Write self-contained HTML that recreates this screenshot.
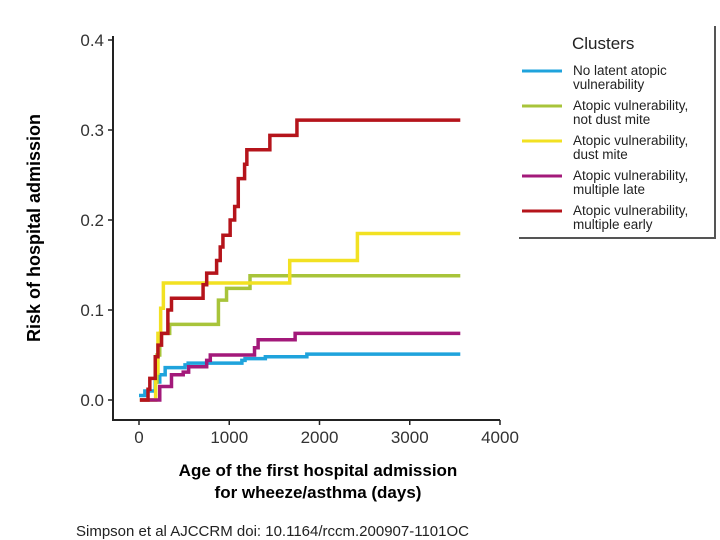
<!DOCTYPE html>
<html><head><meta charset="utf-8"><style>
body{margin:0;background:#fff;}
svg{display:block;font-family:"Liberation Sans",Arial,sans-serif;}
</style></head><body>
<svg id="c" width="720" height="540">
<g id="axes"></g>
<g id="series"></g>
<text x="0" y="0" transform="translate(40,228) rotate(-90)" text-anchor="middle" font-size="18" font-weight="bold">Risk of hospital admission</text>
<text x="318" y="476" text-anchor="middle" font-size="17" font-weight="bold">Age of the first hospital admission</text>
<text x="318" y="498" text-anchor="middle" font-size="17" font-weight="bold">for wheeze/asthma (days)</text>
<text x="76" y="536" font-size="15" fill="#222">Simpson et al AJCCRM doi: 10.1164/rccm.200907-1101OC</text>
<g>
<line x1="715" y1="26" x2="715" y2="239" stroke="#555" stroke-width="2"/>
<line x1="519" y1="238" x2="715" y2="238" stroke="#555" stroke-width="2"/>
<text x="572" y="49" font-size="17" fill="#222">Clusters</text>
<g id="legend"></g>
</g>
</svg>
<script>
const xTicks=[0,1000,2000,3000,4000];
const yTicks=[0.0,0.1,0.2,0.3,0.4];
const seriesNames=["No latent atopic|vulnerability","Atopic vulnerability,|not dust mite","Atopic vulnerability,|dust mite","Atopic vulnerability,|multiple late","Atopic vulnerability,|multiple early"];
const seriesColors=["#1fa3dc","#a8c43a","#f2e122","#a3197a","#b5141b"];
const blueDays=[0,65,180,230,290,510,545,1140,1175,1400,1860,3560];
const blueRisk=[0.005,0.01,0.02,0.028,0.036,0.039,0.041,0.044,0.046,0.048,0.051,0.051];
const greenDays=[10,170,185,200,230,340,880,970,1230,3560];
const greenRisk=[0,0,0.02,0.05,0.074,0.084,0.111,0.124,0.138,0.138];
const yellowDays=[10,160,185,210,240,270,1670,2420,3560];
const yellowRisk=[0,0,0.03,0.074,0.102,0.13,0.155,0.185,0.185];
const magentaDays=[10,230,360,490,550,750,790,1280,1320,1730,3560];
const magentaRisk=[0,0.015,0.028,0.031,0.037,0.044,0.05,0.058,0.067,0.074,0.074];
const redDays=[10,100,120,180,210,250,320,360,710,750,860,900,930,1010,1060,1100,1170,1195,1450,1750,3560];
const redRisk=[0,0.012,0.024,0.048,0.061,0.074,0.1,0.113,0.128,0.141,0.155,0.17,0.183,0.2,0.215,0.246,0.262,0.278,0.294,0.311,0.311];
const allDays=[blueDays,greenDays,yellowDays,magentaDays,redDays];
const allRisk=[blueRisk,greenRisk,yellowRisk,magentaRisk,redRisk];
const NS="http://www.w3.org/2000/svg";
const xs=d=>139+d*(361/4000);
const ys=v=>400-v*900;
function mk(t,a,p){const e=document.createElementNS(NS,t);for(const k in a)e.setAttribute(k,a[k]);p.appendChild(e);return e;}
const axes=document.getElementById('axes');
const ya=mk('line',{x1:113,y1:36,x2:113,y2:421,stroke:'#222','stroke-width':2},axes);


const xa=mk('line',{x1:112,y1:420,x2:500,y2:420,stroke:'#222','stroke-width':2},axes);


yTicks.forEach(v=>{
 mk('line',{x1:108,y1:ys(v),x2:113,y2:ys(v),stroke:'#222','stroke-width':1.5},axes);
 const t=mk('text',{x:104,y:ys(v)+6,'text-anchor':'end','font-size':17,fill:'#333'},axes);
 t.textContent=v.toFixed(1);
 
 
});
xTicks.forEach(v=>{
 mk('line',{x1:xs(v),y1:420,x2:xs(v),y2:425,stroke:'#222','stroke-width':1.5},axes);
 const t=mk('text',{x:xs(v),y:443,'text-anchor':'middle','font-size':17,fill:'#333'},axes);
 t.textContent=String(v);
 
 
});
const sg=document.getElementById('series');
const keys=['no-latent','not-dust-mite','dust-mite','multiple-late','multiple-early'];
allDays.forEach((D,i)=>{
 const R=allRisk[i];
 let d='M'+xs(D[0])+','+ys(R[0]);
 for(let j=1;j<D.length;j++){d+=' H'+xs(D[j])+' V'+ys(R[j]);}
 const p=mk('path',{d:d,fill:'none',stroke:seriesColors[i],'stroke-width':3.5},sg);
 
 
});
const lg=document.getElementById('legend');
const ly=[71,106,141,176,211];
seriesNames.forEach((n,i)=>{
 const l=mk('line',{x1:522,y1:ly[i],x2:562,y2:ly[i],stroke:seriesColors[i],'stroke-width':3},lg);
 
 
 const parts=n.split('|');
 parts.forEach((s,k)=>{
  const t=mk('text',{x:573,y:ly[i]+4+k*14,'font-size':13.5,fill:'#222'},lg);
  t.textContent=s;
  
  
 });
});
</script>
</body></html>
